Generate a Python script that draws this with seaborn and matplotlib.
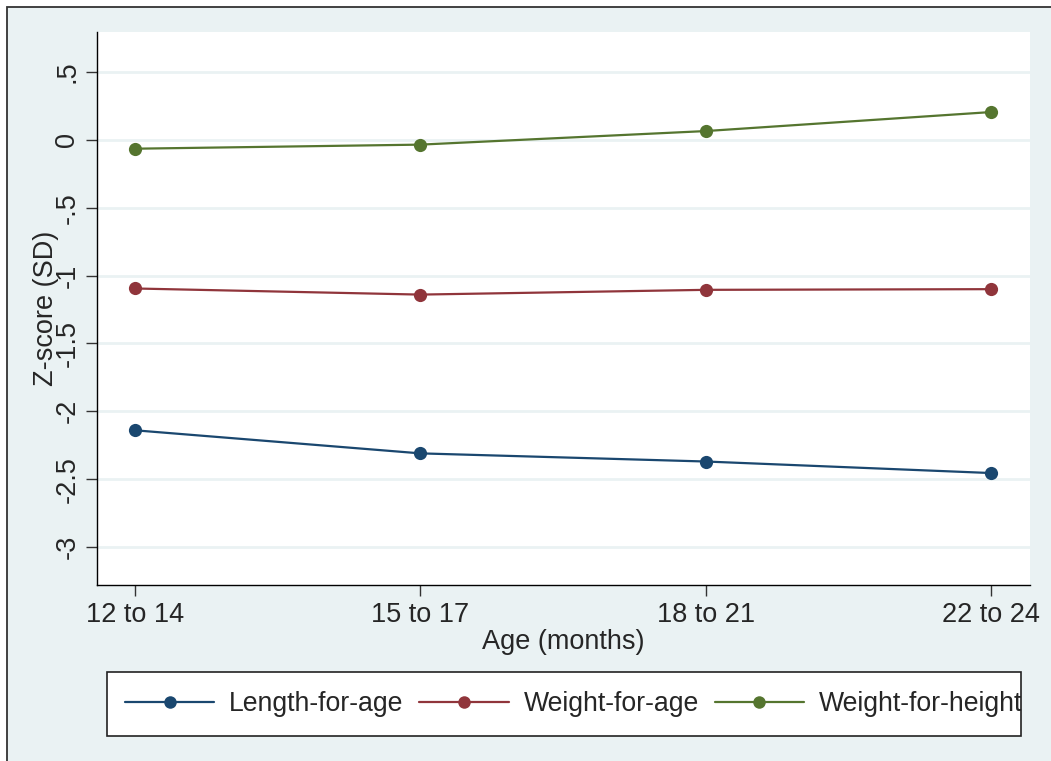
import numpy as np
import pandas as pd
import matplotlib.pyplot as plt
import seaborn as sns
from matplotlib.patches import Rectangle

# dados
age_groups = ['12 to 14', '15 to 17', '18 to 21', '22 to 24']
length_for_age = [-2.14, -2.31, -2.37, -2.455]
weight_for_age = [-1.095, -1.14, -1.105, -1.10]
weight_for_height = [-0.065, -0.035, 0.065, 0.205]
series_names = ['Length-for-age', 'Weight-for-age', 'Weight-for-height']
y_ticks = [0.5, 0, -0.5, -1, -1.5, -2, -2.5, -3]
y_tick_labels = ['.5', '0', '-.5', '-1', '-1.5', '-2', '-2.5', '-3']

df = pd.DataFrame({
    'x': list(range(len(age_groups))) * 3,
    'z': length_for_age + weight_for_age + weight_for_height,
    'serie': [s for s in series_names for _ in age_groups],
})

sns.set_style('white')
plt.rcParams['font.family'] = ['Liberation Sans', 'DejaVu Sans']

bg = '#eaf2f3'
cores = ['#1a476f', '#90353b', '#55752f']
fs = 19.5

W, H = 1051, 761
fig = plt.figure(figsize=(W / 100, H / 100), dpi=100)
fig.patch.set_facecolor('white')
# moldura exterior (estilo Stata)
fig.patches.append(Rectangle((7 / W, -0.01), 1.02, 1 - 7 / H + 0.01,
                             transform=fig.transFigure, facecolor=bg,
                             edgecolor='#333333', linewidth=1.3, zorder=-10))
# caixa da legenda
fig.patches.append(Rectangle((107 / W, 1 - 736 / H), (1021 - 107) / W, 64 / H,
                             transform=fig.transFigure, facecolor='white',
                             edgecolor='#222222', linewidth=1.2, zorder=-5))

ax = fig.add_axes([97 / W, 1 - 585 / H, (1030 - 97) / W, (585 - 32) / H])
ax.set_facecolor('white')

sns.lineplot(data=df, x='x', y='z', hue='serie', palette=cores, marker='o',
             markersize=9.5, markeredgewidth=0, linewidth=1.6, ax=ax, legend=False)

ax.set_xlim(-0.133, 3.137)
ax.set_ylim(-3.28, 0.795)
ax.set_xticks(range(len(age_groups)))
ax.set_xticklabels(age_groups, fontsize=fs)
ax.set_yticks(y_ticks)
ax.set_yticklabels(y_tick_labels, fontsize=fs, rotation=90, va='center')
ax.grid(axis='y', color=bg, linewidth=2.0)
ax.grid(axis='x', visible=False)
ax.set_axisbelow(True)
for s in ['top', 'right']:
    ax.spines[s].set_visible(False)
for s in ['left', 'bottom']:
    ax.spines[s].set_color('black')
    ax.spines[s].set_linewidth(1.0)
ax.tick_params(axis='both', direction='out', length=8, width=1, color='#333333', pad=4,
               left=True, bottom=True)

ax.set_xlabel('Age (months)', fontsize=fs, labelpad=1)
ax.set_ylabel('Z-score (SD)', fontsize=fs)
ax.yaxis.set_label_coords(-0.041, 0.5)

handles = [plt.Line2D([], [], color=c, marker='o', markersize=9, markeredgewidth=0,
                      linewidth=1.6) for c in cores]
leg = fig.legend(handles, series_names, loc='center', bbox_to_anchor=(573.5 / W, 1 - 704 / H),
                 ncol=3, fontsize=19.2, frameon=False, handlelength=3.35,
                 columnspacing=0.6, handletextpad=0.55, borderpad=0.0)

fig.savefig('out.png', dpi=100, facecolor=fig.get_facecolor())
